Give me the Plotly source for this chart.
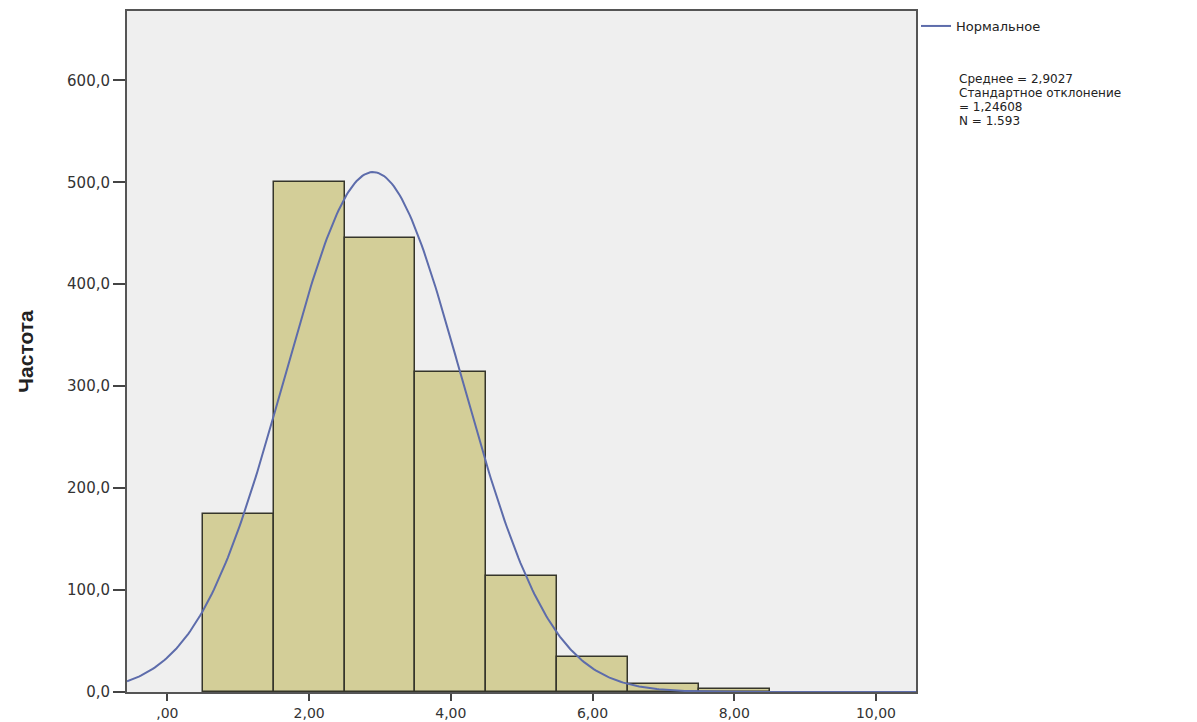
import numpy as np
import plotly.graph_objects as go

# Data
bin_centers = [1, 2, 3, 4, 5, 6, 7, 8]
frequencies = [175, 500, 445, 314, 114, 34, 8, 3]
x_tick_vals = [0, 2, 4, 6, 8, 10]
x_tick_text = [",00", "2,00", "4,00", "6,00", "8,00", "10,00"]
y_tick_vals = [0, 100, 200, 300, 400, 500, 600]
y_tick_text = ["0,0", "100,0", "200,0", "300,0", "400,0", "500,0", "600,0"]
mean_value = 2.9027
std_value = 1.24608
n_value = 1593
bin_width = 1.0

x_range = [-0.57, 10.565]
y_range = [0, 668]

# normal curve scaled to the histogram
xs = np.linspace(x_range[0], x_range[1], 400)
ys = n_value * bin_width / (std_value * np.sqrt(2 * np.pi)) * np.exp(-0.5 * ((xs - mean_value) / std_value) ** 2)

fig = go.Figure()
fig.add_trace(go.Bar(
    x=bin_centers, y=frequencies, width=bin_width,
    marker=dict(color="#d3ce98", line=dict(color="#35352a", width=1.5)),
    showlegend=False, hoverinfo="x+y",
))
fig.add_trace(go.Scatter(
    x=xs, y=ys, mode="lines", name="Нормальное",
    line=dict(color="#5d6cab", width=2),
))

font_main = "DejaVu Sans, Liberation Sans, Arial, sans-serif"

# page body has an 8px margin offset
FW, FH = 1189, 714
L, R, T, B = 119, 908, 3, 684  # plot area in figure pixels

fig.update_layout(
    width=FW, height=FH,
    margin=dict(l=L, r=FW - R, t=T, b=FH - B, autoexpand=False),
    paper_bgcolor="white",
    plot_bgcolor="#efefef",
    bargap=0,
    font=dict(family=font_main, size=14, color="#333333"),
    legend=dict(
        x=1.0, xanchor="left", y=1.0, yanchor="top",
        bgcolor="rgba(0,0,0,0)", borderwidth=0,
        font=dict(family=font_main, size=13, color="#222222"),
        itemwidth=30, tracegroupgap=0,
    ),
    xaxis=dict(
        range=x_range, tickmode="array", tickvals=x_tick_vals, ticktext=x_tick_text,
        showgrid=False, zeroline=False, automargin=False,
        showline=True, linecolor="#555555", linewidth=2, mirror=True,
        ticks="outside", ticklen=7, tickwidth=2, tickcolor="#444444",
        tickfont=dict(family=font_main, size=14, color="#333333"),
    ),
    yaxis=dict(
        range=y_range, tickmode="array", tickvals=y_tick_vals, ticktext=y_tick_text,
        showgrid=False, zeroline=False, automargin=False,
        showline=True, linecolor="#555555", linewidth=2, mirror=True,
        ticks="outside", ticklen=12, tickwidth=2, tickcolor="#444444",
        tickfont=dict(family=font_main, size=15, color="#333333"),
        title=dict(text="<b>Частота</b>", standoff=28,
                   font=dict(family="Liberation Sans Narrow, Liberation Sans, Arial, sans-serif", size=21, color="#222222")),
    ),
)

stat_lines = [
    "Среднее = 2,9027",
    "Стандартное отклонение",
    "= 1,24608",
    "N = 1.593",
]
for i, line in enumerate(stat_lines):
    fig.add_annotation(
        text=line, xref="paper", yref="paper",
        x=(957 - 127) / (916 - 127), xanchor="left",
        y=(692 - (79 + 14 * i)) / (692 - 11), yanchor="middle",
        showarrow=False, align="left",
        font=dict(family=font_main, size=12, color="#222222"),
    )

fig.write_html("out.html")
